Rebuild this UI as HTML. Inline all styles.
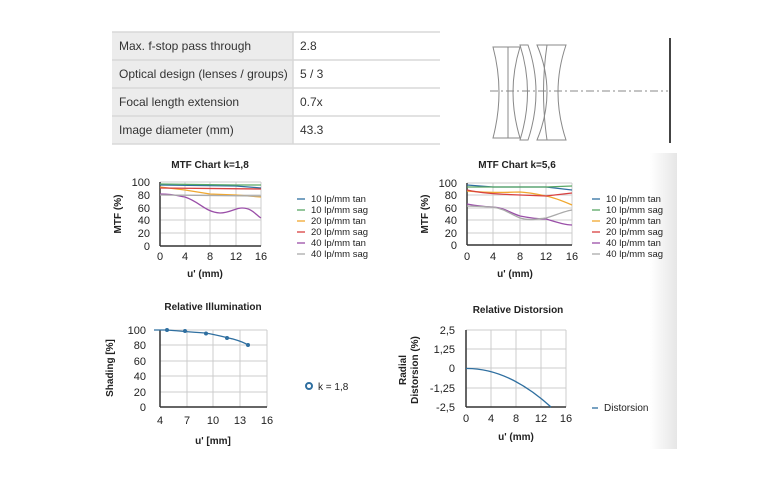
<!DOCTYPE html>
<html><head><meta charset="utf-8"><style>
html,body{margin:0;padding:0;background:#fff;}
svg{display:block;font-family:"Liberation Sans",sans-serif;}
</style></head><body>
<svg width="770" height="500" viewBox="0 0 770 500" xmlns="http://www.w3.org/2000/svg">
<defs><linearGradient id="sh" x1="0" x2="1"><stop offset="0" stop-color="#fff"/><stop offset="1" stop-color="#e6e6e6"/></linearGradient></defs>
<rect x="650" y="153" width="27" height="296" fill="url(#sh)"/>
<!-- table -->
<g font-size="12" fill="#333">
<rect x="112" y="32" width="181" height="112" fill="#ececec"/>
<g stroke="#d8d8d8" stroke-width="1.5">
<line x1="112" y1="32" x2="440" y2="32"/><line x1="112" y1="60" x2="440" y2="60"/><line x1="112" y1="88" x2="440" y2="88"/><line x1="112" y1="116" x2="440" y2="116"/><line x1="112" y1="144" x2="440" y2="144"/>
<line x1="293" y1="32" x2="293" y2="144"/></g>
<text x="119" y="50">Max. f-stop pass through</text><text x="300" y="50">2.8</text>
<text x="119" y="78">Optical design (lenses / groups)</text><text x="300" y="78">5 / 3</text>
<text x="119" y="106">Focal length extension</text><text x="300" y="106">0.7x</text>
<text x="119" y="134">Image diameter (mm)</text><text x="300" y="134">43.3</text>
</g>
<!-- lens diagram -->
<g fill="none" stroke="#888" stroke-width="1">
<path d="M493,47 L520,47 Q506,92 520,138 L493,138 Q505,92 493,47Z"/>
<line x1="508" y1="47" x2="508" y2="138"/>
<path d="M520,45 L528,45 Q544,92 528,140 L520,140 Q535,92 520,45Z"/>
<path d="M537,45 L566,45 Q550,92 566,140 L537,140 Q557,92 537,45Z"/>
<path d="M547,45 Q540,92 547,140"/>
<line x1="490" y1="91" x2="668" y2="91" stroke-dasharray="8,3,2,3"/>
</g>
<line x1="670" y1="38" x2="670" y2="143" stroke="#444" stroke-width="2"/>
<!-- MTF 1 -->
<g font-size="10" fill="#222">
<text x="210" y="168" text-anchor="middle" font-weight="bold">MTF Chart k=1,8</text>
<g stroke="#ccc"><line x1="160" y1="182" x2="261" y2="182"/><line x1="160" y1="195" x2="261" y2="195"/><line x1="160" y1="208" x2="261" y2="208"/><line x1="160" y1="220" x2="261" y2="220"/><line x1="160" y1="233" x2="261" y2="233"/>
<line x1="185" y1="182" x2="185" y2="246"/><line x1="210" y1="182" x2="210" y2="246"/><line x1="236" y1="182" x2="236" y2="246"/><line x1="261" y1="182" x2="261" y2="246"/></g>
<line x1="160" y1="182" x2="160" y2="246" stroke="#333" stroke-width="1.5"/><line x1="160" y1="246" x2="261" y2="246" stroke="#333" stroke-width="1.5"/>
<g font-size="11" text-anchor="end"><text x="150" y="186">100</text><text x="150" y="199">80</text><text x="150" y="212">60</text><text x="150" y="224">40</text><text x="150" y="237">20</text><text x="150" y="250">0</text></g>
<g font-size="11" text-anchor="middle"><text x="160" y="260">0</text><text x="185" y="260">4</text><text x="210" y="260">8</text><text x="236" y="260">12</text><text x="261" y="260">16</text></g>
<text x="205" y="277" text-anchor="middle" font-weight="bold">u' (mm)</text>
<text transform="translate(121,214) rotate(-90)" text-anchor="middle" font-weight="bold">MTF (%)</text>
<g fill="none" stroke-width="1.3">
<path d="M160,185 L236,186 L261,188" stroke="#2f6fa0"/>
<path d="M160,184 L236,185 L261,185" stroke="#5aa865"/>
<path d="M160,187 L185,190 L210,194 L236,195 L261,197" stroke="#f0a830"/>
<path d="M160,188 L261,189" stroke="#d84040"/>
<path d="M160,194 C175,194 178,196 185,197 C200,202 205,212 220,213 C230,213 235,208 242,208 C252,208 256,215 261,218" stroke="#9a4fa8"/>
<path d="M160,195 L261,196" stroke="#aaa"/>
</g>
<g font-size="9.5"><g stroke-width="1.3"><line x1="297" y1="199" x2="305" y2="199" stroke="#2f6fa0"/><line x1="297" y1="210" x2="305" y2="210" stroke="#5aa865"/><line x1="297" y1="221" x2="305" y2="221" stroke="#f0a830"/><line x1="297" y1="232" x2="305" y2="232" stroke="#d84040"/><line x1="297" y1="243" x2="305" y2="243" stroke="#9a4fa8"/><line x1="297" y1="254" x2="305" y2="254" stroke="#aaa"/></g>
<text x="311" y="202">10 lp/mm tan</text><text x="311" y="213">10 lp/mm sag</text><text x="311" y="224">20 lp/mm tan</text><text x="311" y="235">20 lp/mm sag</text><text x="311" y="246">40 lp/mm tan</text><text x="311" y="257">40 lp/mm sag</text></g>
</g>
<!-- MTF 2 -->
<g font-size="10" fill="#222">
<text x="517" y="168" text-anchor="middle" font-weight="bold">MTF Chart k=5,6</text>
<g stroke="#ccc"><line x1="467" y1="183" x2="572" y2="183"/><line x1="467" y1="195" x2="572" y2="195"/><line x1="467" y1="208" x2="572" y2="208"/><line x1="467" y1="220" x2="572" y2="220"/><line x1="467" y1="233" x2="572" y2="233"/>
<line x1="493" y1="183" x2="493" y2="245"/><line x1="520" y1="183" x2="520" y2="245"/><line x1="546" y1="183" x2="546" y2="245"/><line x1="572" y1="183" x2="572" y2="245"/></g>
<line x1="467" y1="183" x2="467" y2="245" stroke="#333" stroke-width="1.5"/><line x1="467" y1="245" x2="572" y2="245" stroke="#333" stroke-width="1.5"/>
<g font-size="11" text-anchor="end"><text x="457" y="187">100</text><text x="457" y="199">80</text><text x="457" y="212">60</text><text x="457" y="224">40</text><text x="457" y="237">20</text><text x="457" y="249">0</text></g>
<g font-size="11" text-anchor="middle"><text x="467" y="260">0</text><text x="493" y="260">4</text><text x="520" y="260">8</text><text x="546" y="260">12</text><text x="572" y="260">16</text></g>
<text x="515" y="277" text-anchor="middle" font-weight="bold">u' (mm)</text>
<text transform="translate(428,214) rotate(-90)" text-anchor="middle" font-weight="bold">MTF (%)</text>
<g fill="none" stroke-width="1.3">
<path d="M467,185 L493,187 L546,187 L572,190" stroke="#2f6fa0"/>
<path d="M467,187 L546,187 L572,186" stroke="#5aa865"/>
<path d="M467,191 C480,192 490,193 520,192 C535,193 540,195 546,196 C556,198 565,202 572,205" stroke="#f0a830"/>
<path d="M467,190 C480,193 495,194 520,195 L546,196 L572,193" stroke="#d84040"/>
<path d="M467,204 C477,206 490,207 493,207 C505,208 508,212 520,216 C530,218 540,219 546,219 C556,222 565,225 572,225" stroke="#9a4fa8"/>
<path d="M467,206 L493,207 C505,209 510,214 520,218 C530,221 535,219 546,218 C556,215 565,211 572,210" stroke="#aaa"/>
</g>
<g font-size="9.5"><g stroke-width="1.3"><line x1="592" y1="199" x2="600" y2="199" stroke="#2f6fa0"/><line x1="592" y1="210" x2="600" y2="210" stroke="#5aa865"/><line x1="592" y1="221" x2="600" y2="221" stroke="#f0a830"/><line x1="592" y1="232" x2="600" y2="232" stroke="#d84040"/><line x1="592" y1="243" x2="600" y2="243" stroke="#9a4fa8"/><line x1="592" y1="254" x2="600" y2="254" stroke="#aaa"/></g>
<text x="606" y="202">10 lp/mm tan</text><text x="606" y="213">10 lp/mm sag</text><text x="606" y="224">20 lp/mm tan</text><text x="606" y="235">20 lp/mm sag</text><text x="606" y="246">40 lp/mm tan</text><text x="606" y="257">40 lp/mm sag</text></g>
</g>
<!-- Relative Illumination -->
<g font-size="10" fill="#222">
<text x="213" y="310" text-anchor="middle" font-weight="bold">Relative Illumination</text>
<g stroke="#ccc"><line x1="160" y1="330" x2="267" y2="330"/><line x1="160" y1="345" x2="267" y2="345"/><line x1="160" y1="361" x2="267" y2="361"/><line x1="160" y1="376" x2="267" y2="376"/><line x1="160" y1="392" x2="267" y2="392"/>
<line x1="187" y1="330" x2="187" y2="407"/><line x1="213" y1="330" x2="213" y2="407"/><line x1="240" y1="330" x2="240" y2="407"/><line x1="267" y1="330" x2="267" y2="407"/></g>
<line x1="160" y1="330" x2="160" y2="407" stroke="#333" stroke-width="1.5"/><line x1="160" y1="407" x2="267" y2="407" stroke="#333" stroke-width="1.5"/>
<g font-size="11" text-anchor="end"><text x="146" y="334">100</text><text x="146" y="349">80</text><text x="146" y="365">60</text><text x="146" y="380">40</text><text x="146" y="396">20</text><text x="146" y="411">0</text></g>
<g font-size="11" text-anchor="middle"><text x="160" y="424">4</text><text x="187" y="424">7</text><text x="213" y="424">10</text><text x="240" y="424">13</text><text x="267" y="424">16</text></g>
<text x="213" y="444" text-anchor="middle" font-weight="bold">u' [mm]</text>
<text transform="translate(113,368) rotate(-90)" text-anchor="middle" font-weight="bold">Shading [%]</text>
<path d="M154,330 L167,330 C180,331 190,332 205,333 C218,335 228,338 233,339 C240,341 245,343 248,345" fill="none" stroke="#2f6fa0" stroke-width="1.3"/>
<g fill="#2f6fa0"><circle cx="167" cy="330" r="2"/><circle cx="185" cy="331" r="2"/><circle cx="206" cy="333.5" r="2"/><circle cx="227" cy="338" r="2"/><circle cx="248" cy="345" r="2"/></g>
<circle cx="309" cy="386" r="3" fill="none" stroke="#2f6fa0" stroke-width="2"/>
<text x="318" y="390" font-size="10">k = 1,8</text>
</g>
<!-- Distortion -->
<g font-size="10" fill="#222">
<text x="518" y="313" text-anchor="middle" font-weight="bold">Relative Distorsion</text>
<g stroke="#ccc"><line x1="466" y1="330" x2="566" y2="330"/><line x1="466" y1="349" x2="566" y2="349"/><line x1="466" y1="368" x2="566" y2="368"/><line x1="466" y1="388" x2="566" y2="388"/>
<line x1="491" y1="330" x2="491" y2="407"/><line x1="516" y1="330" x2="516" y2="407"/><line x1="541" y1="330" x2="541" y2="407"/><line x1="566" y1="330" x2="566" y2="407"/></g>
<line x1="466" y1="330" x2="466" y2="407" stroke="#333" stroke-width="1.5"/><line x1="466" y1="407" x2="566" y2="407" stroke="#333" stroke-width="1.5"/>
<g font-size="11" text-anchor="end"><text x="455" y="334">2,5</text><text x="455" y="353">1,25</text><text x="455" y="372">0</text><text x="455" y="392">-1,25</text><text x="455" y="411">-2,5</text></g>
<g font-size="11" text-anchor="middle"><text x="466" y="422">0</text><text x="491" y="422">4</text><text x="516" y="422">8</text><text x="541" y="422">12</text><text x="566" y="422">16</text></g>
<text x="516" y="440" text-anchor="middle" font-weight="bold">u' (mm)</text>
<text transform="translate(406,370) rotate(-90)" text-anchor="middle" font-weight="bold">Radial</text>
<text transform="translate(418,370) rotate(-90)" text-anchor="middle" font-weight="bold">Distorsion (%)</text>
<path d="M466,368.5 Q508,368 551,407" fill="none" stroke="#2f6fa0" stroke-width="1.3"/>
<line x1="592" y1="408" x2="598" y2="408" stroke="#2f6fa0" stroke-width="1.3"/>
<text x="604" y="411" font-size="10">Distorsion</text>
</g>
</svg>
</body></html>
